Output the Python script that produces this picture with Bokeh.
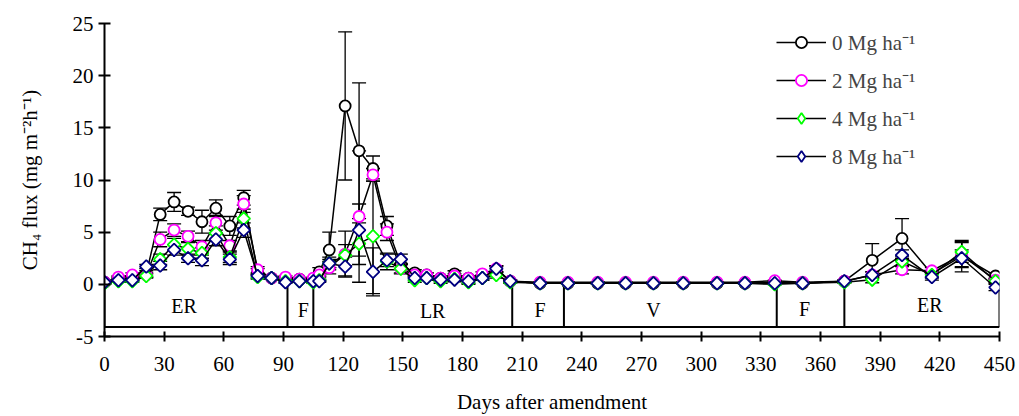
from bokeh.plotting import figure
from bokeh.models import (ColumnDataSource, Whisker, TeeHead, FixedTicker, Legend,
                          LegendItem, Range1d)
from bokeh.core.properties import value
from bokeh.embed import file_html
from bokeh.resources import INLINE
import math

# ---------------- data ----------------
days = [0, 7, 14, 21, 28, 35, 42, 49, 56, 63, 70, 77, 84, 91, 98, 105, 108,
        113, 121, 128, 135, 142, 149, 156, 162, 169, 176, 183, 190, 197, 204,
        219, 233, 248, 262, 276, 291, 308, 322, 337, 351,
        372, 386, 401, 416, 431, 448]

flux_0 = [0.2, 0.5, 0.6, 1.0, 6.7, 7.9, 7.0, 6.0, 7.3, 5.6, 8.3, 1.2, 0.6, 0.5, 0.5, 0.4, 1.2,
          3.3, 17.1, 12.8, 11.1, 5.6, 1.9, 1.1, 0.9, 0.6, 1.0, 0.6, 0.7, 1.4, 0.3,
          0.1, 0.1, 0.1, 0.1, 0.1, 0.1, 0.1, 0.1, 0.2, 0.1,
          0.3, 2.3, 4.4, 1.0, 2.7, 0.8]
se_0 = [0.1, 0.2, 0.2, 0.3, 0.6, 0.9, 0.4, 1.1, 0.8, 0.9, 0.7, 0.3, 0.1, 0.1, 0.1, 0.1, 0.4,
        1.7, 7.1, 6.5, 1.2, 0.9, 0.5, 0.3, 0.2, 0.2, 0.3, 0.2, 0.2, 0.3, 0.1,
        0.05, 0.05, 0.05, 0.05, 0.05, 0.05, 0.05, 0.05, 0.1, 0.05,
        0.1, 1.6, 1.9, 0.3, 1.5, 0.3]

flux_2 = [0.2, 0.7, 0.9, 0.9, 4.3, 5.2, 4.6, 3.6, 5.9, 3.7, 7.7, 1.4, 0.6, 0.7, 0.5, 0.6, 0.9,
          1.6, 2.9, 6.5, 10.5, 5.0, 1.5, 0.9, 0.9, 0.6, 0.8, 0.6, 1.0, 1.5, 0.3,
          0.2, 0.2, 0.2, 0.2, 0.2, 0.2, 0.2, 0.2, 0.35, 0.2,
          0.3, 0.9, 1.4, 1.3, 2.8, 0.4]
se_2 = [0.1, 0.1, 0.2, 0.2, 0.7, 0.6, 0.5, 0.6, 0.7, 0.5, 0.8, 0.3, 0.1, 0.1, 0.1, 0.1, 0.2,
        0.6, 2.2, 6.3, 0.6, 0.8, 0.4, 0.2, 0.2, 0.2, 0.2, 0.2, 0.2, 0.3, 0.1,
        0.05, 0.05, 0.05, 0.05, 0.05, 0.05, 0.05, 0.05, 0.05, 0.05,
        0.1, 0.3, 0.4, 0.3, 1.2, 0.2]

flux_4 = [0.1, 0.3, 0.3, 0.8, 2.4, 3.8, 3.4, 3.0, 4.9, 2.6, 6.3, 0.7, 0.6, 0.3, 0.3, 0.2, 0.4,
          2.0, 2.8, 3.9, 4.6, 2.2, 1.5, 0.4, 0.6, 0.3, 0.5, 0.2, 0.6, 0.9, 0.2,
          0.1, 0.1, 0.1, 0.1, 0.1, 0.1, 0.1, 0.1, 0.0, 0.1,
          0.2, 0.45, 2.2, 0.9, 3.1, 0.3]
se_4 = [0.1, 0.1, 0.1, 0.2, 0.5, 0.6, 0.6, 0.5, 0.7, 0.5, 0.9, 0.2, 0.1, 0.1, 0.1, 0.1, 0.1,
        0.6, 1.0, 2.0, 5.5, 0.8, 0.5, 0.2, 0.2, 0.2, 0.2, 0.2, 0.2, 0.3, 0.1,
        0.05, 0.05, 0.05, 0.05, 0.05, 0.05, 0.05, 0.05, 0.05, 0.05,
        0.1, 0.3, 0.5, 0.3, 1.0, 0.2]

flux_8 = [0.2, 0.4, 0.4, 1.7, 1.8, 3.3, 2.5, 2.3, 4.3, 2.4, 5.2, 0.8, 0.6, 0.2, 0.3, 0.3, 0.3,
          2.0, 1.7, 5.2, 1.2, 2.3, 2.4, 0.6, 0.6, 0.45, 0.45, 0.3, 0.6, 1.5, 0.3,
          0.1, 0.1, 0.1, 0.1, 0.1, 0.1, 0.1, 0.1, 0.1, 0.1,
          0.3, 0.9, 2.8, 0.7, 2.5, -0.3]
se_8 = [0.1, 0.1, 0.1, 0.2, 0.4, 0.5, 0.4, 0.5, 0.6, 0.5, 0.7, 0.2, 0.1, 0.1, 0.1, 0.1, 0.1,
        0.4, 0.9, 2.5, 2.3, 0.6, 0.5, 0.2, 0.2, 0.2, 0.2, 0.2, 0.2, 0.3, 0.1,
        0.05, 0.05, 0.05, 0.05, 0.05, 0.05, 0.05, 0.05, 0.05, 0.05,
        0.1, 0.3, 0.5, 0.3, 0.8, 0.3]

series_labels = ["0 Mg ha\u207b\u00b9", "2 Mg ha\u207b\u00b9", "4 Mg ha\u207b\u00b9", "8 Mg ha\u207b\u00b9"]
series_colors = ["black", "#FF00FF", "#00FF00", "#000080"]
series_markers = ["circle", "circle", "diamond", "diamond"]

x_ticks = list(range(0, 451, 30))
y_ticks = [-5, 0, 5, 10, 15, 20, 25]

# growing-phase annotation
phase_bounds = [0, 92, 105, 205, 231, 338, 372, 450]
phase_names = ["ER", "F", "LR", "F", "V", "F", "ER"]
phase_name_x = [40, 100, 165, 219, 276, 352, 415]
phase_name_y = [-2.1, -2.5, -2.6, -2.5, -2.5, -2.4, -1.95]
phase_box_bottom = -4.1

FONT = "Liberation Serif"

p = figure(frame_width=895, frame_height=313, min_border_left=104, min_border_right=20,
           min_border_top=23, min_border_bottom=78,
           x_range=Range1d(0, 450), y_range=Range1d(-5, 25),
           output_backend="svg", toolbar_location=None, tools="")
p.outline_line_color = None
p.grid.visible = False
p.background_fill_color = "white"
p.border_fill_color = "white"

# axes
p.xaxis.ticker = FixedTicker(ticks=x_ticks)
p.yaxis.ticker = FixedTicker(ticks=y_ticks)
p.yaxis.major_label_overrides = {t: str(t) for t in y_ticks}
for ax in (p.xaxis[0], p.yaxis[0]):
    ax.axis_line_width = 2
    ax.major_tick_line_width = 2
    ax.minor_tick_line_color = None
    ax.major_label_text_font = FONT
    ax.major_label_text_color = "black"
    ax.axis_label_text_font = FONT
    ax.axis_label_text_font_size = "21px"
    ax.axis_label_text_font_style = "normal"
    ax.axis_label_text_color = "black"
p.xaxis.major_label_text_font_size = "21px"
p.yaxis.major_label_text_font_size = "21px"
p.xaxis.major_tick_in = 5
p.xaxis.major_tick_out = 5
p.yaxis.major_tick_in = 6
p.yaxis.major_tick_out = 6
p.xaxis.major_label_standoff = 15
p.yaxis.major_label_standoff = 5
p.xaxis.axis_label = "Days after amendment"
p.xaxis.axis_label_standoff = 16
p.yaxis.axis_label = "CH\u2084 flux (mg m\u207b\u00b2h\u207b\u00b9)"
p.yaxis.axis_label_standoff = 28

# phase box
p.segment(x0=phase_bounds, y0=[0] * len(phase_bounds), x1=phase_bounds,
          y1=[phase_box_bottom] * len(phase_bounds), line_color="black", line_width=2)
p.segment(x0=[phase_bounds[0]], y0=[phase_box_bottom], x1=[phase_bounds[-1]],
          y1=[phase_box_bottom], line_color="black", line_width=2)
p.text(x=phase_name_x, y=phase_name_y, text=phase_names, text_align="center",
       text_baseline="middle", text_font=value(FONT), text_font_size="20px",
       text_color="black")

all_flux = [flux_0, flux_2, flux_4, flux_8]
all_se = [se_0, se_2, se_4, se_8]

items = []
for flux, se, lab, col, mk in zip(all_flux, all_se, series_labels, series_colors, series_markers):
    src = ColumnDataSource(dict(x=days, y=flux,
                                upper=[v + e for v, e in zip(flux, se)],
                                lower=[v - e for v, e in zip(flux, se)]))
    w = Whisker(base="x", upper="upper", lower="lower", source=src, dimension="height",
                line_color="black", line_width=1.3, level="underlay",
                upper_head=TeeHead(size=14, line_width=1.3, line_color="black"),
                lower_head=TeeHead(size=14, line_width=1.3, line_color="black"))
    p.add_layout(w)
    lr = p.line("x", "y", source=src, line_color="black", line_width=1.5)
    if mk == "circle":
        sr = p.scatter("x", "y", source=src, marker="circle", size=11, line_color=col,
                       line_width=1.8, fill_color="white")
        leg_r = sr
    else:
        # diamond drawn underneath (used for the legend), rotated square on top
        leg_r = p.scatter("x", "y", source=src, marker="diamond", size=12, line_color=col,
                          line_width=1.8, fill_color="white")
        sr = p.scatter("x", "y", source=src, marker="square", size=9, angle=math.pi / 4,
                       line_color=col, line_width=1.8, fill_color="white")
    items.append(LegendItem(label=lab, renderers=[lr, leg_r]))

legend = Legend(items=items, location=(672, 166), glyph_width=50, glyph_height=28,
                label_height=28, spacing=10, padding=0, margin=0, label_standoff=6,
                border_line_color=None, background_fill_alpha=0,
                label_text_font=FONT, label_text_font_size="21px")
p.add_layout(legend)

open("out.html", "w").write(file_html(p, INLINE))
